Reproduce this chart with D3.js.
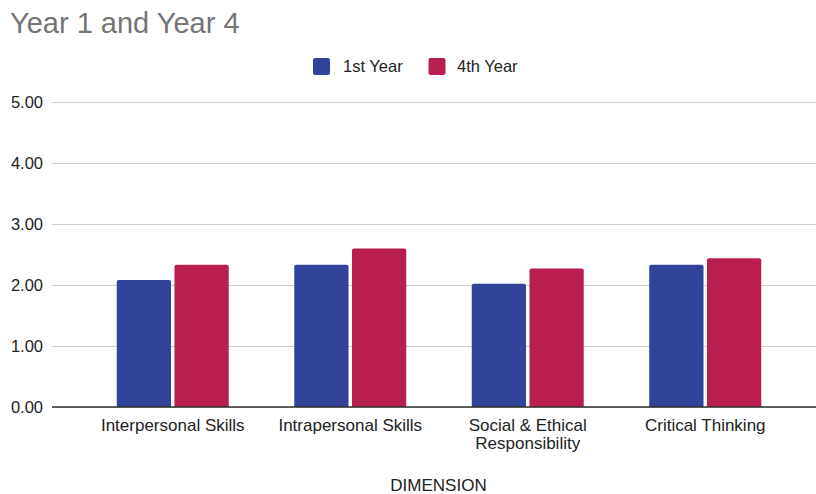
<!DOCTYPE html>
<html>
<head>
<meta charset="utf-8">
<script src="https://cdn.jsdelivr.net/npm/d3@7"></script>
<style>
  html, body { margin: 0; padding: 0; background: #fff; }
  svg { display: block; font-family: "Liberation Sans", Arial, sans-serif; }
</style>
</head>
<body>
<svg id="chart" width="816" height="494"></svg>
<script>
// Mean scores by dimension
const categories = ["Interpersonal Skills", "Intrapersonal Skills", "Social & Ethical Responsibility", "Critical Thinking"];
const categoryLines = [["Interpersonal Skills"], ["Intrapersonal Skills"], ["Social & Ethical", "Responsibility"], ["Critical Thinking"]];
const seriesNames = ["1st Year", "4th Year"];
const firstYear = [2.08, 2.33, 2.02, 2.33];
const fourthYear = [2.33, 2.60, 2.27, 2.44];
const yTicks = [0, 1, 2, 3, 4, 5];
const colors = ["#31449a", "#b81f4e"];

const svg = d3.select("#chart");
const plotLeft = 52, plotRight = 816, yTop = 102, yBottom = 407;

const y = d3.scaleLinear().domain([0, 5]).range([yBottom, yTop]);
const x = d3.scaleBand().domain(categories).range([84, 794])
  .paddingInner(0.369).paddingOuter(0.1845);
const xs = d3.scaleBand().domain(seriesNames).range([0, x.bandwidth()])
  .paddingInner(0.06).paddingOuter(0);

// Title
svg.append("text").attr("x", 10).attr("y", 33)
  .attr("font-size", 29).attr("fill", "#757575").text("Year 1 and Year 4");

// Legend
const legend = svg.append("g");
const legendItems = [{x: 313, tx: 343}, {x: 428.5, tx: 457}];
seriesNames.forEach((name, i) => {
  legend.append("rect").attr("x", legendItems[i].x).attr("y", 58)
    .attr("width", 17).attr("height", 17).attr("rx", 2).attr("fill", colors[i]);
  legend.append("text").attr("x", legendItems[i].tx).attr("y", 72)
    .attr("font-size", 16.5).attr("fill", "#222").text(name);
});

// Gridlines and y labels
const yAxis = d3.axisLeft(y).tickValues(yTicks).tickFormat(d3.format(".2f"))
  .tickSize(-(plotRight - plotLeft)).tickPadding(9);
const gy = svg.append("g").attr("transform", `translate(${plotLeft},0)`).call(yAxis);
gy.select(".domain").remove();
gy.selectAll(".tick line").attr("stroke", "#cccccc").attr("stroke-width", 1);
gy.selectAll(".tick text").attr("font-size", 16.5).attr("fill", "#222")
  .attr("font-family", "Liberation Sans, Arial, sans-serif");

// Bars
const data = categories.map((c, i) => ({c, vals: [firstYear[i], fourthYear[i]]}));
const groups = svg.append("g").selectAll("g").data(data).join("g")
  .attr("transform", d => `translate(${x(d.c)},0)`);
groups.selectAll("path").data(d => d.vals.map((v, i) => ({v, s: seriesNames[i], i})))
  .join("path")
  .attr("fill", d => colors[d.i])
  .attr("d", d => {
    const x0 = xs(d.s), w = xs.bandwidth(), top = y(d.v), b = y(0), r = 2;
    return `M${x0},${b}V${top + r}Q${x0},${top} ${x0 + r},${top}H${x0 + w - r}Q${x0 + w},${top} ${x0 + w},${top + r}V${b}Z`;
  });

// Baseline
svg.append("line").attr("x1", plotLeft).attr("x2", plotRight)
  .attr("y1", y(0)).attr("y2", y(0)).attr("stroke", "#333").attr("stroke-width", 1.5);

// Category labels
const xl = svg.append("g");
categories.forEach((c, i) => {
  const t = xl.append("text").attr("x", x(c) + x.bandwidth() / 2).attr("y", 431)
    .attr("text-anchor", "middle").attr("font-size", 17).attr("fill", "#222");
  categoryLines[i].forEach((line, j) => {
    t.append("tspan").attr("x", x(c) + x.bandwidth() / 2).attr("dy", j === 0 ? 0 : 17.5).text(line);
  });
});

// Axis title
svg.append("text").attr("x", 438.5).attr("y", 491).attr("text-anchor", "middle")
  .attr("font-size", 17).attr("fill", "#222").text("DIMENSION");
</script>
</body>
</html>
